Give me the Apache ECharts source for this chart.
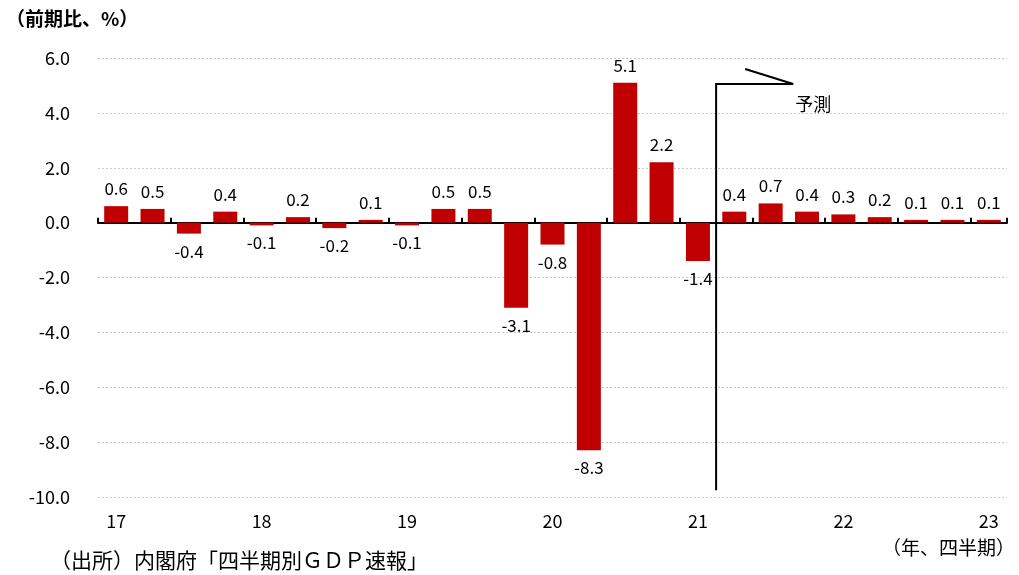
<!DOCTYPE html>
<html><head><meta charset="utf-8">
<script src="https://cdn.jsdelivr.net/npm/echarts@6/dist/echarts.min.js"></script>
<style>html,body{margin:0;padding:0;background:#fff}#c{width:1019px;height:575px}</style>
</head><body><div id="c"></div>
<script>
const quarters = ['17Q1','17Q2','17Q3','17Q4','18Q1','18Q2','18Q3','18Q4','19Q1','19Q2','19Q3','19Q4','20Q1','20Q2','20Q3','20Q4','21Q1','21Q2','21Q3','21Q4','22Q1','22Q2','22Q3','22Q4','23Q1'];
const growth = [0.6,0.5,-0.4,0.4,-0.1,0.2,-0.2,0.1,-0.1,0.5,0.5,-3.1,-0.8,-8.3,5.1,2.2,-1.4,0.4,0.7,0.4,0.3,0.2,0.1,0.1,0.1];
const yTicks = {min:-10, max:6, interval:2};
const forecastStart = '21Q2';
const font = '"Noto Sans CJK JP", "Noto Sans", sans-serif';

const chart = echarts.init(document.getElementById('c'));
chart.setOption({
  animation:false,
  grid:{left:98,right:12,top:58,bottom:78},
  xAxis:[{
    type:'category', data:quarters, position:'bottom',
    axisLine:{onZero:true, lineStyle:{color:'#000',width:2}},
    axisTick:{show:true, inside:true, length:5, lineStyle:{color:'#000',width:2}},
    axisLabel:{show:false}
  },{
    type:'category', data:quarters, position:'bottom',
    axisLine:{show:false,onZero:false}, axisTick:{show:false},
    axisLabel:{interval:0, margin:15, fontFamily:font, fontSize:18, color:'#000',
      formatter:(v,i)=> i%4===0 ? v.slice(0,2) : ''}
  }],
  yAxis:{type:'value', min:yTicks.min, max:yTicks.max, interval:yTicks.interval,
    axisLine:{show:false}, axisTick:{show:false},
    axisLabel:{margin:28, fontFamily:font, fontSize:18, color:'#000', formatter:v=>v.toFixed(1)},
    splitLine:{lineStyle:{color:'#c8c8c8', type:[2,2], width:1}}
  },
  series:[{
    type:'bar', xAxisIndex:0, barWidth:'66%',
    itemStyle:{color:'#c00000'},
    data:growth.map(v=>({value:v, label:{position: v>=0?'top':'bottom'}})),
    label:{show:true, distance:9, fontFamily:font, fontSize:17, color:'#000',
      formatter:p=>p.value.toFixed(1)}
  }]
});

const i0 = quarters.indexOf(forecastStart);
const xa = chart.convertToPixel({xAxisIndex:0}, quarters[i0-1]);
const xb = chart.convertToPixel({xAxisIndex:0}, quarters[i0]);
const xLine = (xa+xb)/2;
const step = xb-xa;
const yBot = chart.convertToPixel({yAxisIndex:0}, -9.75);
const yTop = chart.convertToPixel({yAxisIndex:0}, 5.05);
const xEnd = xLine + step*2.12;
chart.setOption({graphic:[
  {type:'polyline', shape:{points:[[xLine,yBot],[xLine,yTop],[xEnd,yTop]]}, style:{stroke:'#000',lineWidth:2,fill:null}},
  {type:'line', shape:{x1:xLine+step*0.8, y1:yTop-15, x2:xEnd, y2:yTop}, style:{stroke:'#000',lineWidth:2}},
  {type:'text', x:xEnd+2, y:yTop+11, style:{text:'予測', font:'18px '+font, fill:'#000'}},
  {type:'text', left:6, top:9, style:{text:'（前期比、%）', font:'bold 19px '+font, fill:'#000'}},
  {type:'text', left:50, top:550, style:{text:'（出所）内閣府「四半期別ＧＤＰ速報」', font:'21px '+font, fill:'#000'}},
  {type:'text', right:4, top:538, style:{text:'（年、四半期）', font:'19px '+font, fill:'#000'}}
]});
</script></body></html>
